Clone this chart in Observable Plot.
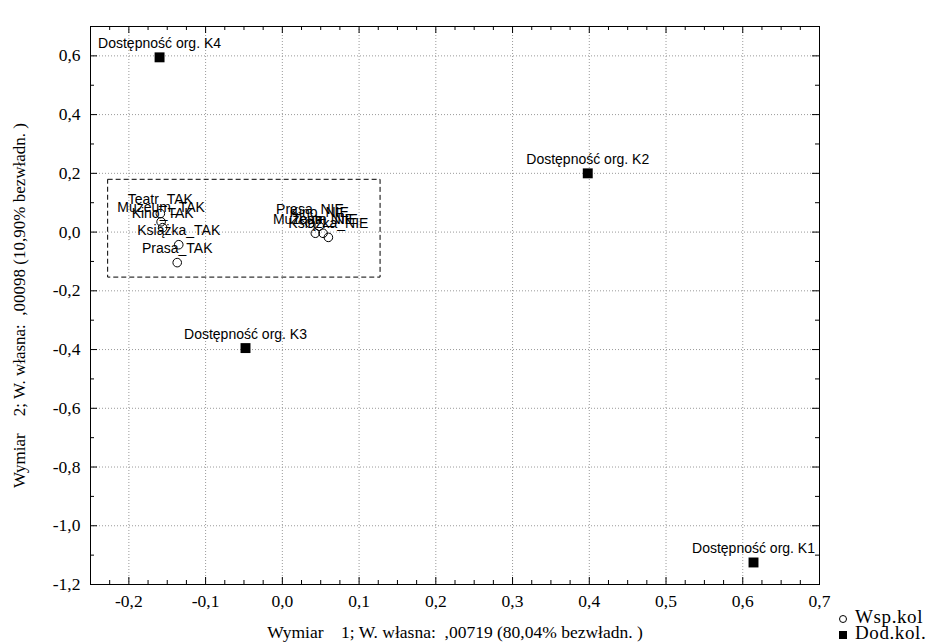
<!DOCTYPE html>
<html>
<head>
<meta charset="utf-8">
<script src="https://cdn.jsdelivr.net/npm/d3@7"></script>
<script src="https://cdn.jsdelivr.net/npm/@observablehq/plot@0.6"></script>
<style>
  body { margin: 0; background: #fff; }
  #wrap { position: relative; width: 937px; height: 644px; overflow: hidden; }
  #legend { position: absolute; left: 838px; top: 609px; font: 19px "Liberation Serif", "Times New Roman", serif; letter-spacing: 0.6px; color: #000; }
  #legend div { height: 16px; line-height: 16px; white-space: nowrap; }
  #legend svg { vertical-align: middle; margin-right: 7px; }
</style>
</head>
<body>
<div id="wrap">
  <div id="chart"></div>
  <div id="legend"></div>
</div>
<script>
// Supplementary column points (filled squares)
const suppNames = ["Dostępność org. K1", "Dostępność org. K2", "Dostępność org. K3", "Dostępność org. K4"];
const suppX = [0.614, 0.398, -0.048, -0.160];
const suppY = [-1.125, 0.200, -0.395, 0.595];

// Column coordinates (open circles)
const colNames = ["Teatr_TAK", "Muzeum_TAK", "Kino_TAK", "Książka_TAK", "Prasa_TAK",
                  "Prasa_NIE", "Kino_NIE", "Muzeum_NIE", "Teatr_NIE", "Książka_NIE"];
const colX = [-0.159, -0.158, -0.156, -0.135, -0.137, 0.036, 0.048, 0.043, 0.053, 0.060];
const colY = [0.063, 0.035, 0.015, -0.043, -0.104, 0.030, 0.020, -0.004, -0.004, -0.018];

// Axis ticks
const xTicks = [-0.2, -0.1, 0.0, 0.1, 0.2, 0.3, 0.4, 0.5, 0.6, 0.7];
const yTicks = [-1.2, -1.0, -0.8, -0.6, -0.4, -0.2, 0.0, 0.2, 0.4, 0.6];
const xMinor = [-0.25, -0.225, -0.175, -0.15, -0.125, -0.075, -0.05, -0.025,
                0.025, 0.05, 0.075, 0.125, 0.15, 0.175, 0.225, 0.25, 0.275,
                0.325, 0.35, 0.375, 0.425, 0.45, 0.475, 0.525, 0.55, 0.575,
                0.625, 0.65, 0.675];
const yMinor = [-1.1, -0.9, -0.7, -0.5, -0.3, -0.1, 0.1, 0.3, 0.5, 0.7];

// Dashed highlight box (data units)
const boxX = [-0.227, 0.128];
const boxY = [-0.155, 0.178];

const xTitle = "Wymiar    1; W. własna:  ,00719 (80,04% bezwładn. )";
const yTitle = "Wymiar    2; W. własna:  ,00098 (10,90% bezwładn. )";
const legendLabels = ["Wsp.kol", "Dod.kol."];

const supp = suppNames.map((name, i) => ({name, x: suppX[i], y: suppY[i]}));
const cols = colNames.map((name, i) => ({name, x: colX[i], y: colY[i]}));
const box = [{x1: boxX[0], x2: boxX[1], y1: boxY[0], y2: boxY[1]}];

const fmt = v => (Math.abs(v) < 1e-9 ? 0 : v).toFixed(1).replace(".", ",");
const sans = '"Liberation Sans", Arial, sans-serif';
const serif = '"Liberation Serif", "Times New Roman", serif';

const W = 937, H = 644, ML = 90, MR = 118, MT = 26, MB = 60;
const frameW = W - ML - MR, frameH = H - MT - MB;

// inward ticks: full-frame ticks trimmed with insets
const ticksBottom = (vals, len) => Plot.tickX(vals, {x: d => d, insetTop: frameH - len, stroke: "black", strokeWidth: 1});
const ticksTop = (vals, len) => Plot.tickX(vals, {x: d => d, insetBottom: frameH - len, stroke: "black", strokeWidth: 1});
const ticksLeft = (vals, len) => Plot.tickY(vals, {y: d => d, insetRight: frameW - len, stroke: "black", strokeWidth: 1});
const ticksRight = (vals, len) => Plot.tickY(vals, {y: d => d, insetLeft: frameW - len, stroke: "black", strokeWidth: 1});

const chart = Plot.plot({
  width: W,
  height: H,
  marginLeft: ML,
  marginRight: MR,
  marginTop: MT,
  marginBottom: MB,
  x: {domain: [-0.25, 0.7]},
  y: {domain: [-1.2, 0.7]},
  style: {fontFamily: serif, fontSize: "17px", background: "white", color: "black", overflow: "visible"},
  marks: [
    Plot.gridX(xTicks, {stroke: "#9a9a9a", strokeOpacity: 1, strokeDasharray: "1,2"}),
    Plot.gridY(yTicks, {stroke: "#9a9a9a", strokeOpacity: 1, strokeDasharray: "1,2"}),
    Plot.rect(box, {x1: "x1", x2: "x2", y1: "y1", y2: "y2", fill: "none", stroke: "black", strokeWidth: 1, strokeDasharray: "5,3"}),
    Plot.frame({stroke: "black", strokeWidth: 1}),
    ticksBottom(xMinor, 4), ticksBottom(xTicks, 7),
    ticksTop(xMinor, 4), ticksTop(xTicks, 7),
    ticksLeft(yMinor, 4), ticksLeft(yTicks, 7),
    ticksRight(yMinor, 4), ticksRight(yTicks, 7),
    // tick labels
    Plot.axisX(xTicks, {anchor: "bottom", tickSize: 0, tickPadding: 10, tickFormat: fmt, label: null, fontFamily: serif, fontSize: 17.5, fill: "black"}),
    Plot.axisY(yTicks, {anchor: "left", tickSize: 0, tickPadding: 10, tickFormat: fmt, label: null, fontFamily: serif, fontSize: 17.5, fill: "black"}),
    // points
    Plot.dot(cols, {x: "x", y: "y", r: 4.3, stroke: "black", fill: "none", strokeWidth: 1}),
    Plot.dot(supp, {x: "x", y: "y", symbol: "square", r: 5.6, fill: "black", stroke: "none"}),
    Plot.text(cols, {x: "x", y: "y", text: "name", dy: -14, fontFamily: sans, fontSize: 14, fill: "black"}),
    Plot.text(supp, {x: "x", y: "y", text: "name", dy: -14, fontFamily: sans, fontSize: 14, fill: "black"}),
    // axis titles
    Plot.text([xTitle], {text: d => d, frameAnchor: "bottom", dy: 48, textAnchor: "middle", lineAnchor: "middle", fontFamily: serif, fontSize: 17.5, fill: "black"}),
    Plot.text([yTitle], {text: d => d, frameAnchor: "left", dx: -71, rotate: -90, textAnchor: "middle", lineAnchor: "middle", fontFamily: serif, fontSize: 17, fill: "black"})
  ]
});
document.getElementById("chart").appendChild(chart);

// Legend
const legend = document.getElementById("legend");
const symbols = [
  '<svg width="10" height="10"><circle cx="5" cy="5" r="3.5" fill="none" stroke="black" stroke-width="1"/></svg>',
  '<svg width="10" height="10"><rect x="1" y="1" width="8" height="8" fill="black"/></svg>'
];
legendLabels.forEach((lab, i) => {
  const row = document.createElement("div");
  row.innerHTML = symbols[i] + "<span></span>";
  row.querySelector("span").textContent = lab;
  legend.appendChild(row);
});
</script>
</body>
</html>
